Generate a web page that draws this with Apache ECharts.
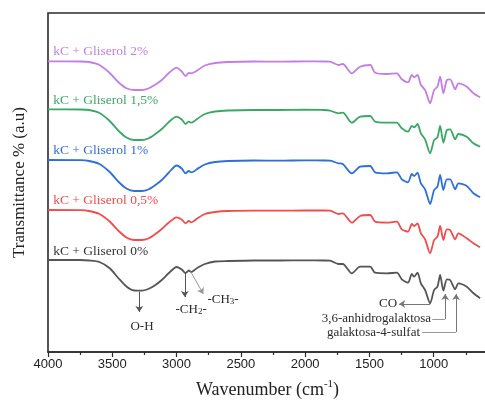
<!DOCTYPE html>
<html lang="en">
<head>
<meta charset="UTF-8">
<title>FTIR kC + Gliserol</title>
<style>
    html, body { margin: 0; padding: 0; background: #fff; }
    #main { width: 485px; height: 403px; }
</style>
<script src="https://cdn.jsdelivr.net/npm/echarts@6/dist/echarts.min.js"></script>
</head>
<body>
<div id="main"></div>
<script>
// wavenumber (cm-1) shared by all spectra
const wavenumbers = [4000, 3750, 3680, 3600, 3520, 3450, 3390, 3330, 3270, 3220, 3170, 3115, 3060, 3000,
    2960, 2930, 2905, 2885, 2860, 2840, 2780, 2700, 2600, 2400, 2200, 2000, 1850, 1806, 1741, 1707,
    1637, 1573, 1494, 1456, 1365, 1287, 1248, 1200, 1170, 1152, 1126, 1100, 1067, 1028, 997, 971,
    950, 925, 898, 872, 833, 808, 743, 691, 639];

// transmittance (a.u., stacked)
const gliserol0 = [92, 92, 91.5, 90, 83.7, 73.5, 65.5, 61.5, 61.3, 63, 66.5, 72, 79, 85,
    82.5, 79, 81.5, 80, 82, 84, 88, 90.5, 91, 91.5, 91.5, 91.7, 91.5, 91.3, 88, 88,
    78.7, 85.3, 85.3, 79.3, 78.7, 79.3, 72.7, 69.3, 78, 75.3, 79.3, 68.7, 62, 48.7, 62, 65.3,
    77, 61.3, 72.7, 72, 62.7, 68.7, 65.3, 58.7, 53.7];
const gliserol05 = [142, 141.8, 141, 138, 130.5, 121, 114.5, 112, 112, 113.5, 117.5, 123, 129.5, 134.7,
    132.5, 128.7, 131, 129.7, 131.5, 133.5, 138, 140, 141, 141.3, 141.3, 141.5, 141.5, 141.3, 138, 138.7,
    129.3, 136, 137, 130.3, 129.3, 130.3, 122.7, 120.3, 128, 126, 128.7, 118.7, 112.7, 98.7, 112, 115.3,
    126, 112, 122.7, 122, 112.7, 118.7, 113.7, 108.7, 104.7];
const gliserol1 = [192, 191.8, 191, 188, 180, 170, 163.5, 161, 161, 162.5, 166.5, 172, 179.5, 186.5,
    183.5, 178.7, 181, 179.7, 181, 183, 187.5, 190, 191, 191.5, 191.3, 191.7, 191.5, 191.3, 188.7, 188,
    178.7, 185.3, 186, 179.7, 178.7, 179.7, 172.7, 169.7, 178, 176, 179.3, 168.7, 162.7, 148, 162, 165.3,
    177, 162, 172.7, 172.7, 162.7, 168.7, 166, 158.7, 154.7];
const gliserol15 = [242.7, 242.5, 242, 239, 231, 221, 214.5, 212, 212, 213.5, 217.5, 223, 230, 235.3,
    232.5, 228, 230.3, 229.3, 231, 233, 238, 240.5, 241.5, 242, 242, 242.3, 242, 241.3, 238.7, 239.3,
    229.3, 235.3, 236, 230.3, 229.3, 229.3, 223.7, 220.3, 226, 224.7, 228, 218.7, 212.7, 198.7, 212, 214.7,
    226, 209.3, 222, 222.7, 212.7, 218, 215.3, 208.7, 205.3];
const gliserol2 = [290.7, 290.5, 290, 287, 279, 269.5, 263.7, 262, 262, 263.5, 267, 272, 279, 284.3,
    280.5, 276, 279, 278.7, 280, 281.5, 286.5, 289, 290, 290.5, 290.3, 290.7, 290.5, 290.3, 287, 288,
    278.7, 285.3, 287, 279.3, 278, 278.7, 272.7, 269.7, 277, 274.7, 277, 267, 262, 248.7, 262, 265.3,
    275.3, 258.7, 272, 272.7, 262.7, 268.7, 265.3, 258.7, 254.7];

const seriesNames = ['kC + Gliserol 0%', 'kC + Gliserol 0,5%', 'kC + Gliserol 1%', 'kC + Gliserol 1,5%', 'kC + Gliserol 2%'];
const seriesValues = [gliserol0, gliserol05, gliserol1, gliserol15, gliserol2];
const seriesColors = ['#555555', '#f24b4b', '#2e6fd8', '#3aa864', '#c27ee4'];
const labelColors = ['#333333', '#f24b4b', '#2e6fd8', '#3aa864', '#c27ee4'];
// where the series names sit: [wavenumber, value]
const nameAnchors = [[3960, 101], [3960, 152], [3960, 201.3], [3960, 252], [3960, 300.3]];

// band assignments: [wavenumber, value, text, align]
const bandTexts = [
    [3269, 25, 'O-H', 'center'],
    [2887, 42, '-CH{s|2}-', 'center'],
    [2639, 52, '-CH{s|3}-', 'center'],
    [1285, 48, 'CO', 'right'],
    [1020, 33, '3,6-anhidrogalaktosa', 'right'],
    [1106, 19, 'galaktosa-4-sulfat', 'right']
];
// arrows: [from, to, withHead, colour]
const bandArrows = [
    [[3290, 60.3], [3290, 40], true, '#555'],
    [[2936, 79], [2936, 55], true, '#555'],
    [[2890, 80.3], [2792, 58], true, '#999'],
    [[1028, 48], [1269, 48], true, '#777'],
    [[1012, 33], [911, 33], false, '#999'],
    [[911, 33], [911, 58], true, '#777'],
    [[1090, 20], [826, 20], false, '#999'],
    [[826, 20], [826, 58], true, '#777']
];

const serif = '"Liberation Serif", "Times New Roman", serif';
const sans = '"Liberation Sans", Arial, sans-serif';

const chart = echarts.init(document.getElementById('main'));

const series = seriesValues.map((vals, i) => ({
    name: seriesNames[i],
    type: 'line',
    data: wavenumbers.map((w, k) => [w, vals[k]]),
    showSymbol: false,
    smooth: 0.25,
    lineStyle: {color: seriesColors[i], width: 1.8},
    itemStyle: {color: seriesColors[i]},
    z: 3
}));

series[0].markLine = {
    silent: true,
    animation: false,
    symbolSize: 6,
    label: {show: false},
    data: bandArrows.map(a => [
        {coord: a[0], symbol: 'none', lineStyle: {color: a[3], width: 1, type: 'solid'}},
        {coord: a[1], symbol: a[2] ? 'arrow' : 'none', itemStyle: {color: '#222'}}
    ])
};

chart.setOption({
    animation: false,
    grid: {
        left: 48, top: 13, bottom: 51, right: -13,
        outerBoundsMode: 'none', containLabel: false,
        show: true, borderColor: '#2b2b2b', borderWidth: 1.6
    },
    xAxis: {
        type: 'value',
        inverse: true,
        min: 500,
        max: 4000,
        interval: 500,
        name: '{a|Wavenumber (cm}{b|-1}{a|)}',
        nameLocation: 'middle',
        nameGap: 27,
        nameTextStyle: {
            padding: [0, 11, 0, 0],
            rich: {
                a: {fontFamily: serif, fontSize: 18, color: '#222', lineHeight: 22},
                b: {fontFamily: serif, fontSize: 11, color: '#222', verticalAlign: 'top', lineHeight: 12}
            }
        },
        axisLine: {lineStyle: {color: '#2b2b2b', width: 1.6}},
        axisTick: {length: 5, lineStyle: {color: '#2b2b2b', width: 1.2}},
        minorTick: {show: true, splitNumber: 2, length: 3, lineStyle: {color: '#2b2b2b', width: 1.2}},
        axisLabel: {
            margin: 6,
            fontFamily: sans,
            fontSize: 13,
            color: '#222',
            formatter: v => (v === 500 ? '' : v)
        },
        splitLine: {show: false}
    },
    yAxis: {
        type: 'value',
        min: 0,
        max: 339,
        name: 'Transmittance % (a.u)',
        nameLocation: 'middle',
        nameGap: 20,
        nameTextStyle: {fontFamily: serif, fontSize: 17, color: '#222'},
        axisLine: {show: false},
        axisTick: {show: false},
        axisLabel: {show: false},
        splitLine: {show: false}
    },
    series: series
});

// text placed at data coordinates
const graphics = [];
nameAnchors.forEach((p, i) => {
    const [x, y] = chart.convertToPixel({gridIndex: 0}, p);
    graphics.push({
        type: 'text', x: x, y: y, silent: true, z: 10,
        style: {text: seriesNames[i], fill: labelColors[i], fontFamily: serif, fontSize: 13.5,
            align: 'left', verticalAlign: 'middle'}
    });
});
bandTexts.forEach(t => {
    const [x, y] = chart.convertToPixel({gridIndex: 0}, [t[0], t[1]]);
    graphics.push({
        type: 'text', x: x, y: y, silent: true, z: 10,
        style: {
            text: t[2], fill: '#2a2a2a', fontFamily: serif, fontSize: 13,
            align: t[3], verticalAlign: 'middle',
            rich: {
                s: {fontFamily: serif, fontSize: 9, fill: '#2a2a2a', verticalAlign: 'bottom', lineHeight: 9, padding: [6, 0, 0, 0]}
            }
        }
    });
});
chart.setOption({graphic: graphics});
</script>
</body>
</html>
